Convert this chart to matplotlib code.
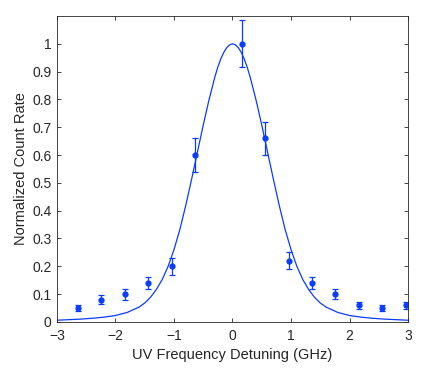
import numpy as np
import matplotlib
matplotlib.use("Agg")
import matplotlib.pyplot as plt

plt.rcParams["font.family"] = ["Liberation Sans", "DejaVu Sans"]
plt.rcParams["figure.dpi"] = 100

# measured points (detuning in GHz, normalized count rate, error)
det_x = [-2.64, -2.24, -1.84, -1.44, -1.04, -0.64, 0.16, 0.56, 0.96,
         1.36, 1.76, 2.16, 2.56, 2.96]
rate_y = [0.05, 0.08, 0.10, 0.14, 0.20, 0.60, 1.00, 0.66, 0.22,
          0.14, 0.10, 0.06, 0.05, 0.06]
rate_err = [0.010, 0.015, 0.020, 0.022, 0.030, 0.060, 0.085, 0.060, 0.030,
            0.022, 0.018, 0.012, 0.010, 0.012]

# fitted line profile
curve_x = [-3.0, -2.8, -2.6, -2.4, -2.2, -2.0, -1.8, -1.6,
           -1.5, -1.4, -1.3, -1.2, -1.1, -1.0, -0.9, -0.8, -0.7, -0.6,
           -0.5, -0.4, -0.3, -0.25, -0.2, -0.15, -0.1, -0.05, 0.0,
           0.05, 0.1, 0.15, 0.2, 0.25, 0.3, 0.4, 0.5, 0.6, 0.7, 0.8, 0.9, 1.0,
           1.1, 1.2, 1.3, 1.4, 1.5, 1.6,
           1.8, 2.0, 2.2, 2.4, 2.6, 2.8, 3.0]
curve_y = [0.006, 0.008, 0.010, 0.013, 0.017, 0.023, 0.034, 0.053,
           0.068, 0.089, 0.117, 0.153, 0.200, 0.260, 0.332, 0.418, 0.512, 0.610,
           0.708, 0.800, 0.882, 0.917, 0.946, 0.969, 0.986, 0.9965, 1.000,
           0.9965, 0.986, 0.969, 0.946, 0.917, 0.882, 0.800, 0.708, 0.610, 0.512, 0.418, 0.332, 0.260,
           0.200, 0.153, 0.117, 0.089, 0.068, 0.053,
           0.034, 0.023, 0.017, 0.013, 0.010, 0.008, 0.006]

x_ticks = [-3, -2, -1, 0, 1, 2, 3]
y_ticks = [0, 0.1, 0.2, 0.3, 0.4, 0.5, 0.6, 0.7, 0.8, 0.9, 1]
y_labels = ["0", "0.1", "0.2", "0.3", "0.4", "0.5", "0.6", "0.7", "0.8", "0.9", "1"]

BLUE = "#0a3cff"
DARK = "#262626"

fig = plt.figure(figsize=(4.33, 3.73))
ax = fig.add_axes([0.1316, 0.137, 0.8107, 0.820])

ax.plot(curve_x, curve_y, color=BLUE, lw=0.9)
ax.errorbar(det_x, rate_y, yerr=rate_err, fmt="o", color=BLUE, ms=3.5,
            elinewidth=0.9, capsize=2.5, capthick=0.9)

ax.set_xlim(-3, 3)
ax.set_ylim(0, 1.1)
ax.set_xticks(x_ticks)
ax.set_yticks(y_ticks)
ax.set_yticklabels(y_labels)
ax.tick_params(direction="in", length=3, width=0.6, top=True, right=True,
               labelsize=10, colors=DARK)
ax.tick_params(axis="x", pad=5)
ax.tick_params(axis="y", pad=4)
for s in ax.spines.values():
    s.set_linewidth(0.6)
    s.set_color(DARK)

ax.set_xlabel("UV Frequency Detuning (GHz)", fontsize=10.5, color=DARK, labelpad=4)
ax.set_ylabel("Normalized Count Rate", fontsize=10.5, color=DARK, labelpad=3)

fig.savefig("out.png", dpi=100)
